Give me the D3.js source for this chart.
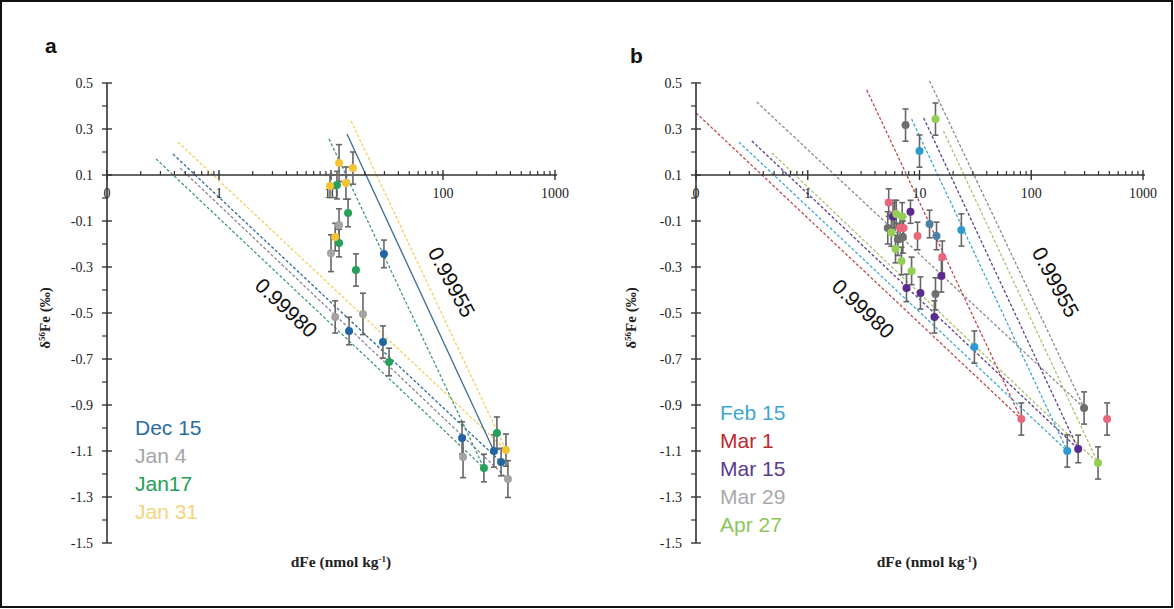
<!DOCTYPE html>
<html><head><meta charset="utf-8">
<script src="https://cdn.jsdelivr.net/npm/d3@7/dist/d3.min.js"></script>
<style>body{margin:0;background:#fff}svg{display:block}</style>
</head><body><svg id="c" width="1174" height="609"></svg>
<script>
// ---------- DATA ----------
const xTickValues = [0.1, 1, 10, 100, 1000];
const xTickLabels = ["0", "1", "10", "100", "1000"];
const yTickValues = [0.5, 0.3, 0.1, -0.1, -0.3, -0.5, -0.7, -0.9, -1.1, -1.3, -1.5];
const yTickLabels = ["0.5", "0.3", "0.1", "-0.1", "-0.3", "-0.5", "-0.7", "-0.9", "-1.1", "-1.3", "-1.5"];

// Panel a series: [dFe, d56Fe, err]
const aNames = ["Dec 15", "Jan 4", "Jan17", "Jan 31"];
const aDec15 = [[29.7, -0.243, 0.06], [14.5, -0.578, 0.06], [29.1, -0.626, 0.07], [148, -1.043, 0.07], [285, -1.10, 0.07], [330, -1.148, 0.06]];
const aJan4 = [[10.0, -0.24, 0.08], [11.8, -0.117, 0.07], [10.9, -0.517, 0.07], [19.3, -0.504, 0.09], [151, -1.126, 0.09], [380, -1.222, 0.08]];
const aJan17 = [[11.3, 0.056, 0.06], [14.2, -0.065, 0.06], [11.8, -0.196, 0.06], [16.7, -0.313, 0.07], [33, -0.713, 0.06], [232, -1.174, 0.06], [303, -1.022, 0.07]];
const aJan31 = [[11.8, 0.152, 0.08], [15.7, 0.13, 0.07], [9.8, 0.052, 0.05], [13.6, 0.065, 0.07], [10.9, -0.17, 0.06], [365, -1.096, 0.07]];

// Panel a Rayleigh lines: [x0, y0, x1, y1]
const aLines998 = [[0.388, 0.191, 330, -1.148], [0.45, 0.13, 380, -1.222], [0.274, 0.17, 232, -1.174], [0.43, 0.243, 365, -1.096]];
const aLines9955 = [[13.9, 0.278, 285, -1.10], [9.6, 0.257, 232, -1.174], [15.1, 0.335, 365, -1.096]];

// Panel b series
const bNames = ["Feb 15", "Mar 1", "Mar 15", "Mar 29", "Apr 27"];
const bFeb15 = [[10, 0.204, 0.07], [23.7, -0.139, 0.07], [31, -0.648, 0.07], [210, -1.10, 0.07]];
const bMar1 = [[81.5, -0.961, 0.07], [477, -0.961, 0.07], [9.6, -0.165, 0.06], [16, -0.257, 0.07], [5.3, -0.02, 0.06], [6.0, -0.07, 0.06], [6.7, -0.13, 0.06], [7.2, -0.13, 0.05]];
const bMar15 = [[263, -1.091, 0.06], [15.7, -0.339, 0.07], [13.6, -0.517, 0.07], [10.2, -0.413, 0.07], [7.65, -0.391, 0.06], [8.3, -0.06, 0.05], [5.8, -0.08, 0.06]];
const bMar29 = [[7.5, 0.317, 0.07], [297, -0.913, 0.07], [13.9, -0.417, 0.07], [5.2, -0.13, 0.07], [6.4, -0.18, 0.07], [7.1, -0.17, 0.07]];
const bApr27 = [[13.9, 0.343, 0.07], [396, -1.152, 0.07], [8.5, -0.317, 0.06], [6.9, -0.274, 0.06], [6.1, -0.222, 0.06], [6.2, -0.07, 0.06], [7.0, -0.08, 0.06], [5.6, -0.15, 0.06]];
const bOther = [[12.3, -0.113, 0.06], [14.2, -0.165, 0.06]];

const bLines998 = [[0.1, 0.37, 81.5, -0.961], [0.242, 0.243, 210, -1.10], [0.316, 0.248, 263, -1.091], [0.35, 0.417, 297, -0.913], [0.477, 0.196, 396, -1.152]];
const bLines9955 = [[3.37, 0.47, 81.5, -0.961], [8.5, 0.343, 210, -1.10], [10.9, 0.348, 263, -1.091], [12.3, 0.509, 297, -0.913], [16.4, 0.291, 396, -1.152]];

// ---------- DRAW ----------
const svg = d3.select("#c");
svg.append("rect").attr("x", 1).attr("y", 1).attr("width", 1171).attr("height", 606)
  .attr("fill", "#fff").attr("stroke", "#111").attr("stroke-width", 2);

const y = d3.scaleLinear().domain([-1.5, 0.5]).range([543, 83]);
const serif = "'Liberation Serif','Times New Roman',serif";
const sans = "'Liberation Sans',Arial,sans-serif";

function panel(cfg) {
  const x = d3.scaleLog().domain([0.1, 1000]).range(cfg.xr);
  const g = svg.append("g");
  const x0 = cfg.xr[0];
  const yAx = y(0.1);

  // lines
  const lg = g.append("g");
  cfg.lines.forEach(L => {
    L.data.forEach((d, i) => {
      lg.append("line")
        .attr("x1", x(d[0])).attr("y1", y(d[1])).attr("x2", x(d[2])).attr("y2", y(d[3]))
        .attr("stroke", L.colors[i]).attr("stroke-width", 1.3)
        .attr("stroke-dasharray", L.solid && L.solid[i] ? null : "3,2");
    });
  });

  // y axis
  g.append("line").attr("x1", x0).attr("x2", x0).attr("y1", y(0.5)).attr("y2", y(-1.5)).attr("stroke", "#333").attr("stroke-width", 1.6);
  yTickValues.forEach((v, i) => {
    g.append("line").attr("x1", x0 - 5).attr("x2", x0 + 5).attr("y1", y(v)).attr("y2", y(v)).attr("stroke", "#333").attr("stroke-width", 1.4);
    g.append("text").attr("x", x0 - 14).attr("y", y(v) + 5).attr("text-anchor", "end")
      .attr("font-family", serif).attr("font-size", 14).attr("fill", "#222").text(yTickLabels[i]);
    if (i < yTickValues.length - 1) {
      g.append("line").attr("x1", x0 - 5).attr("x2", x0).attr("y1", y(v - 0.1)).attr("y2", y(v - 0.1)).attr("stroke", "#333").attr("stroke-width", 1.2);
    }
  });
  // x axis
  g.append("line").attr("x1", x0).attr("x2", cfg.xr[1] + 2).attr("y1", yAx).attr("y2", yAx).attr("stroke", "#333").attr("stroke-width", 1.6);
  xTickValues.forEach((v, i) => {
    g.append("line").attr("x1", x(v)).attr("x2", x(v)).attr("y1", yAx - 5).attr("y2", yAx + 5).attr("stroke", "#333").attr("stroke-width", 1.4);
    g.append("text").attr("x", x(v)).attr("y", yAx + 23).attr("text-anchor", "middle")
      .attr("font-family", serif).attr("font-size", 14).attr("fill", "#222").text(xTickLabels[i]);
    if (i < xTickValues.length - 1) {
      for (let k = 2; k <= 9; k++) {
        g.append("line").attr("x1", x(v * k)).attr("x2", x(v * k)).attr("y1", yAx - 4).attr("y2", yAx).attr("stroke", "#333").attr("stroke-width", 1.2);
      }
    }
  });

  // points with error bars
  cfg.series.forEach(s => {
    s.data.forEach(d => {
      const px = x(d[0]), py1 = y(d[1] + d[2]), py2 = y(d[1] - d[2]);
      g.append("line").attr("x1", px).attr("x2", px).attr("y1", py1).attr("y2", py2).attr("stroke", "#666").attr("stroke-width", 1.6);
      g.append("line").attr("x1", px - 3).attr("x2", px + 3).attr("y1", py1).attr("y2", py1).attr("stroke", "#666").attr("stroke-width", 1.6);
      g.append("line").attr("x1", px - 3).attr("x2", px + 3).attr("y1", py2).attr("y2", py2).attr("stroke", "#666").attr("stroke-width", 1.6);
    });
  });
  cfg.series.forEach(s => {
    s.data.forEach(d => {
      g.append("circle").attr("cx", x(d[0])).attr("cy", y(d[1])).attr("r", 4).attr("fill", s.color);
    });
  });

  // axis titles
  const yt = g.append("text").attr("transform", `translate(${cfg.ytx},318) rotate(-90)`).attr("text-anchor", "middle")
    .attr("font-family", serif).attr("font-size", 15).attr("font-weight", "bold").attr("fill", "#222");
  yt.append("tspan").text("δ");
  yt.append("tspan").attr("baseline-shift", "super").attr("font-size", 9).text("56");
  yt.append("tspan").text("Fe (‰)");
  const xt = g.append("text").attr("x", cfg.xtx).attr("y", 567).attr("text-anchor", "middle")
    .attr("font-family", serif).attr("font-size", 15.5).attr("font-weight", "bold").attr("fill", "#222");
  xt.append("tspan").text("dFe (nmol kg");
  xt.append("tspan").attr("baseline-shift", "super").attr("font-size", 9).text("-1");
  xt.append("tspan").text(")");

  // panel letter
  g.append("text").attr("x", cfg.letter[0]).attr("y", cfg.letter[1]).attr("font-family", sans).attr("font-weight", "bold")
    .attr("font-size", 21).attr("fill", "#111").text(cfg.letterText);

  // legend
  cfg.legend.names.forEach((n, i) => {
    g.append("text").attr("x", cfg.legend.x).attr("y", cfg.legend.y + i * cfg.legend.dy)
      .attr("font-family", sans).attr("font-size", 21).attr("fill", cfg.legend.colors[i]).text(n);
  });

  // annotations
  cfg.notes.forEach(a => {
    g.append("text").attr("transform", `translate(${a.x},${a.y}) rotate(${a.r})`).attr("text-anchor", "middle")
      .attr("dominant-baseline", "middle").attr("font-family", sans).attr("font-size", 21).attr("fill", "#111").text(a.t);
  });
}

panel({
  xr: [107, 555], ytx: 50, xtx: 341, letter: [45, 53], letterText: "a",
  lines: [
    { data: aLines998, colors: ["#2f6a9a", "#8a8496", "#3f9a7e", "#f0cf5a"] },
    { data: aLines9955, colors: ["#3a6a96", "#3f9a7e", "#f0cf5a"], solid: [true, false, false] }
  ],
  series: [
    { color: "#1f66a3", data: aDec15 },
    { color: "#a3a3a3", data: aJan4 },
    { color: "#27a05a", data: aJan17 },
    { color: "#f4c331", data: aJan31 }
  ],
  legend: { names: aNames, colors: ["#2b6ca3", "#a5a5a5", "#23a055", "#f3d57a"], x: 135, y: 435, dy: 28 },
  notes: [{ t: "0.99980", x: 285, y: 309, r: 43 }, { t: "0.99955", x: 450, y: 283, r: 62 }]
});

panel({
  xr: [696, 1143], ytx: 636, xtx: 927, letter: [630, 63], letterText: "b",
  lines: [
    { data: bLines998, colors: ["#c0474d", "#41a7cf", "#5d3b8d", "#8a8a8a", "#a6c46a"] },
    { data: bLines9955, colors: ["#c0474d", "#41a7cf", "#5d3b8d", "#8a8a8a", "#a6c46a"] }
  ],
  series: [
    { color: "#2c9bcf", data: bFeb15 },
    { color: "#e8677a", data: bMar1 },
    { color: "#5b2a8c", data: bMar15 },
    { color: "#6f6f6f", data: bMar29 },
    { color: "#93cf52", data: bApr27 },
    { color: "#4d7fa8", data: bOther }
  ],
  legend: { names: bNames, colors: ["#3fa6d1", "#c1272d", "#5a3a8e", "#a9a9a9", "#8dc65b"], x: 720, y: 420, dy: 28 },
  notes: [{ t: "0.99980", x: 862, y: 310, r: 43 }, { t: "0.99955", x: 1054, y: 283, r: 62 }]
});
</script></body></html>
